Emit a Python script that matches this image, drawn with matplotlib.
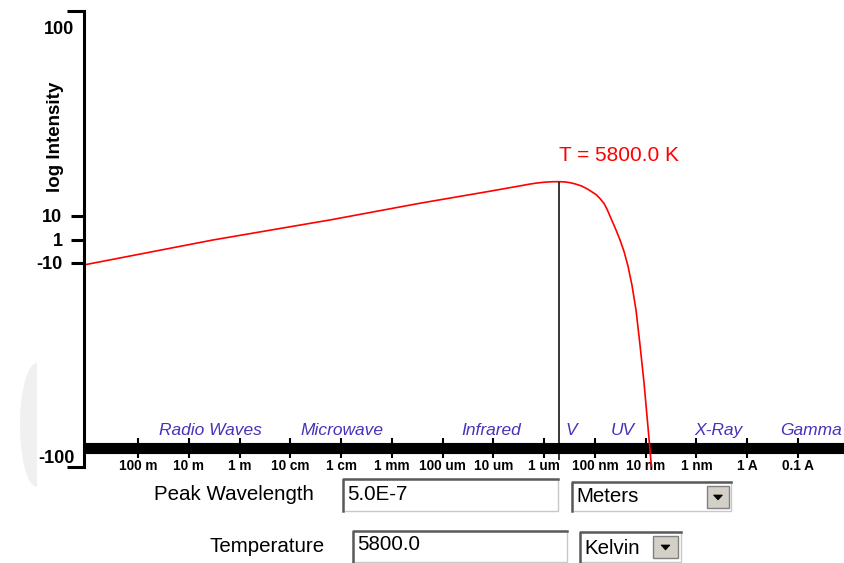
"""
Blackbody spectrum viewer: log intensity vs wavelength for one temperature.
"""

import numpy as np
import matplotlib.pyplot as plt
from matplotlib.patches import Rectangle, Polygon
from matplotlib.lines import Line2D
from matplotlib.ticker import NullLocator

plt.rcParams['font.family'] = ['Liberation Sans', 'DejaVu Sans']

# ─────────────────────────────────────────
# Data
# ─────────────────────────────────────────
temperature = 5800.0          # K
peak_wavelength = 5.0e-7      # m
band_level = -100.0           # height of the spectrum band on the intensity axis

# curve: log10(wavelength / m) and log intensity
curve_log_wl = [3.01, 0.52, -1.78, -3.55, -4.87, -5.50, -5.70, -5.85, -6.00,
                -6.15, -6.27, -6.40, -6.50, -6.60, -6.73, -6.85, -6.93,
                -7.02, -7.10, -7.18, -7.24, -7.33, -7.415, -7.494, -7.573,
                -7.652, -7.730, -7.809, -7.888, -7.967, -8.045, -8.085, -8.124]
curve_log_int = [-21.8, -11.4, -2.9, 4.2, 9.1, 11.5, 12.3, 12.8, 13.15,
                 13.35, 13.4, 13.3, 13.0, 12.5, 11.6, 10.3, 9.2,
                 7.95, 6.2, 4.1, 1.6, -2.9, -7.15, -11.4, -16.3,
                 -22.6, -30.7, -41.2, -56.1, -72.2, -91.0, -100.8, -111.0]

# wavelength ticks along the band
tick_log_wl = [2, 1, 0, -1, -2, -3, -4, -5, -6, -7, -8, -9, -10, -11]
tick_labels = ["100 m", "10 m", "1 m", "10 cm", "1 cm", "1 mm", "100 um",
               "10 um", "1 um", "100 nm", "10 nm", "1 nm", "1 A", "0.1 A"]

# spectral regions
region_names = ["Radio Waves", "Microwave", "Infrared", "V", "UV", "X-Ray", "Gamma"]
region_log_wl = [0.58, -2.02, -4.95, -6.53, -7.54, -9.44, -11.26]

# intensity axis labels
ytick_major = [-1.2, -11.4, -21.2]
ytick_major_labels = ["10", "1", "-10"]
ytick_minor = [78.8, -103.7]
ytick_minor_labels = ["100", "-100"]

# ─────────────────────────────────────────
# Figure
# ─────────────────────────────────────────
W, H = 844, 563
fig = plt.figure(figsize=(W / 100, H / 100), dpi=100)


def fx(x):
    return x / W


def fy(y):
    return 1 - y / H


# faint backdrop shape on the left
t = np.linspace(np.pi / 2, 3 * np.pi / 2, 60)
crescent = np.column_stack([fx(37 + 17 * np.cos(t)), fy(425 - 62 * np.sin(t))])
fig.patches.append(Polygon(crescent, closed=True, transform=fig.transFigure,
                           facecolor="#f0f0f0", edgecolor="none", zorder=0))

ax = fig.add_axes([fx(84), fy(467), (W - 84) / W, (467 - 11) / H])
ax.set_facecolor("none")

ax.set_xscale("log")
ax.set_xlim(10 ** 3.064, 10 ** -11.906)
ax.set_ylim(-108.0, 86.0)

# spines
for s in ["top", "right"]:
    ax.spines[s].set_visible(False)
ax.spines["left"].set_linewidth(2.2)
ax.spines["bottom"].set_position(("data", band_level))
ax.spines["bottom"].set_linewidth(8)
ax.spines["bottom"].set_capstyle("butt")

# x ticks on the band
ax.xaxis.set_minor_locator(NullLocator())
ax.set_xticks([10.0 ** e for e in tick_log_wl], tick_labels)
ax.tick_params(axis="x", direction="inout", length=14, width=1.5, pad=1,
               labelsize=9.8)
for lab in ax.get_xticklabels():
    lab.set_fontweight("bold")

# y ticks
ax.set_yticks(ytick_major, ytick_major_labels)
ax.set_yticks(ytick_minor, ytick_minor_labels, minor=True)
ax.tick_params(axis="y", which="major", length=9.5, width=2.2, pad=6,
               labelsize=13)
ax.tick_params(axis="y", which="minor", length=0, pad=7, labelsize=13)
for lab in ax.get_yticklabels() + ax.get_yticklabels(minor=True):
    lab.set_fontweight("bold")

# end brackets of the intensity axis
for yb in (0, 1):
    ax.plot([-17 / 760, 0], [yb, yb], color="black", lw=2.2,
            transform=ax.transAxes, clip_on=False, solid_capstyle="butt")

ax.text(-29 / 760, (467 - 137) / 456, "log Intensity", rotation=90,
        ha="center", va="center", fontsize=13.5, fontweight="bold",
        transform=ax.transAxes)

# spectrum curve
ax.plot([10.0 ** e for e in curve_log_wl], curve_log_int, color="red", lw=1.2,
        zorder=3)

# peak marker
peak_int = max(curve_log_int)
ax.vlines(peak_wavelength, band_level - 5, peak_int, color="black", lw=1.1,
          zorder=4)
ax.text(peak_wavelength, peak_int + 11, f"T = {temperature:.1f} K", color="red",
        fontsize=15, ha="left", va="center")

# region names above the band
for name, e in zip(region_names, region_log_wl):
    ax.text(10.0 ** e, band_level + 7.7, name, color="#4433bb", style="italic",
            fontsize=12.5, ha="center", va="center")

# ─────────────────────────────────────────
# Input controls under the chart
# ─────────────────────────────────────────


def box(x0, y0, x1, y1, face="white"):
    fig.patches.append(Rectangle((fx(x0), fy(y1)), fx(x1) - fx(x0), fy(y0) - fy(y1),
                                 transform=fig.transFigure, facecolor=face,
                                 edgecolor="#c8c8c8", lw=1))
    # sunken bevel: dark top and left edges
    fig.lines.append(Line2D([fx(x0), fx(x0), fx(x1)], [fy(y1), fy(y0), fy(y0)],
                            transform=fig.transFigure, color="#5a5a5a", lw=1.8))


def button(x0, y0, x1, y1):
    fig.patches.append(Rectangle((fx(x0), fy(y1)), fx(x1) - fx(x0), fy(y0) - fy(y1),
                                 transform=fig.transFigure, facecolor="#d4d0c8",
                                 edgecolor="#808080", lw=1))
    cx, cy = (x0 + x1) / 2, (y0 + y1) / 2
    tri = [[fx(cx - 4.5), fy(cy - 2)], [fx(cx + 4.5), fy(cy - 2)], [fx(cx), fy(cy + 3)]]
    fig.patches.append(Polygon(tri, closed=True, transform=fig.transFigure,
                               facecolor="black", edgecolor="black", lw=0.5))


fs_form = 14.8
fig.text(fx(314), fy(495), "Peak Wavelength", ha="right", va="center", fontsize=fs_form)
box(343, 479, 558, 511)
fig.text(fx(347), fy(494), "5.0E-7", ha="left", va="center", fontsize=fs_form)
box(572, 482, 731, 511)
fig.text(fx(576), fy(497), "Meters", ha="left", va="center", fontsize=fs_form)
button(707, 486, 729, 508)

fig.text(fx(325), fy(546), "Temperature", ha="right", va="center", fontsize=fs_form)
box(353, 531, 567, 562)
fig.text(fx(357), fy(545), f"{temperature:.1f}", ha="left", va="center", fontsize=fs_form)
box(580, 532, 681, 562)
fig.text(fx(584), fy(548), "Kelvin", ha="left", va="center", fontsize=fs_form)
button(653, 536, 678, 558)

fig.savefig("out.png", dpi=100)
